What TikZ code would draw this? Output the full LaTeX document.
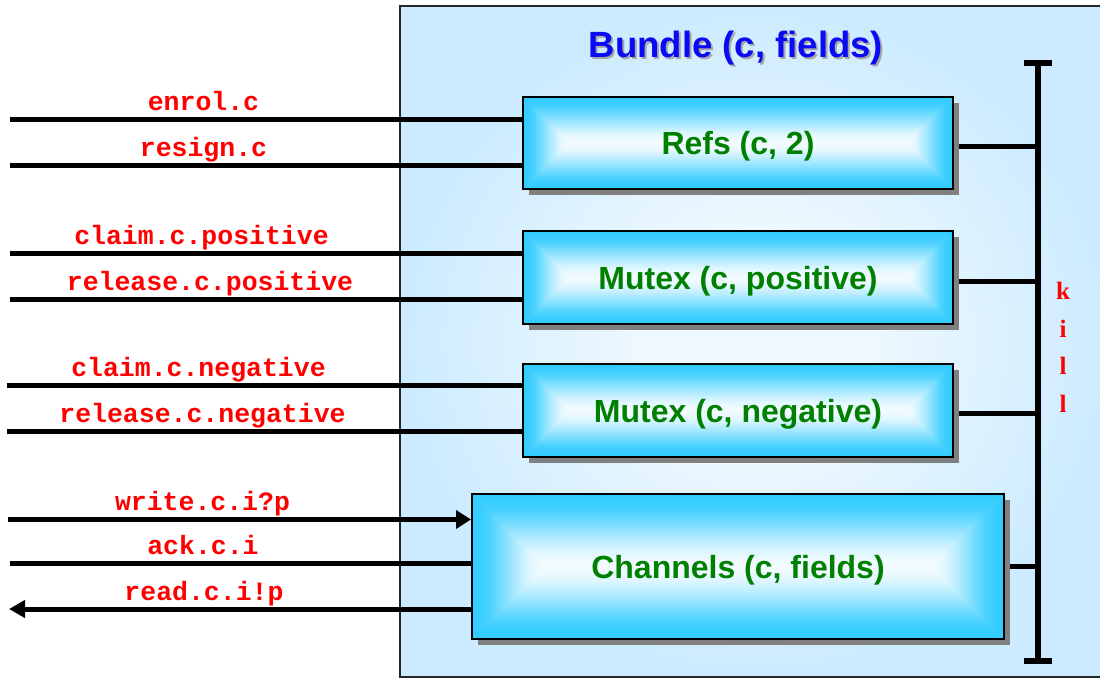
\documentclass[tikz,border=0pt]{standalone}
\usepackage{fontspec}
\setmainfont{Liberation Sans}
\newfontfamily\sansb{Liberation Sans}
\newfontfamily\monob{Liberation Mono}
\newfontfamily\serifb{Liberation Serif}
\usetikzlibrary{arrows.meta,shadows}
\definecolor{bgblue}{RGB}{204,235,255}
\definecolor{bglight}{RGB}{238,248,255}
\definecolor{boxcyan}{RGB}{51,204,255}
\definecolor{boxwhite}{RGB}{242,251,255}
\definecolor{lblred}{RGB}{255,0,0}
\definecolor{ttlblue}{RGB}{10,10,245}
\definecolor{boxgreen}{RGB}{0,128,0}
\definecolor{shadowgray}{RGB}{128,128,128}
\pgfdeclareradialshading{bundleshade}{\pgfpoint{0bp}{0bp}}{color(0bp)=(bglight); color(8bp)=(bglight); color(25bp)=(bgblue); color(50bp)=(bgblue)}
\pgfdeclarelayer{back}
\pgfsetlayers{back,main}
% rectangular "from centre" gradient inside a node
\newcommand\rectgrad{%
  \pgfpointanchor{path picture bounding box}{south west}\pgfgetlastxy\rgxa\rgya
  \pgfpointanchor{path picture bounding box}{north east}\pgfgetlastxy\rgxb\rgyb
  \pgfmathsetmacro\rghh{(\rgyb-\rgya)/2}%
  \foreach \rgi in {0,...,48}{%
    \pgfmathsetmacro\rgt{\rgi/48}%
    \pgfmathsetmacro\rgc{100*(1-(3*\rgt*\rgt-2*\rgt*\rgt*\rgt))}%
    \pgfmathsetmacro\rgd{\rgt*\rghh}%
    \pgfmathsetmacro\rgax{\rgxa+\rgd}%
    \pgfmathsetmacro\rgay{\rgya+\rgd}%
    \pgfmathsetmacro\rgbx{\rgxb-\rgd}%
    \pgfmathsetmacro\rgby{\rgyb-\rgd}%
    \fill[boxcyan!\rgc!boxwhite] (\rgax pt,\rgay pt) rectangle (\rgbx pt,\rgby pt);
  }%
}
\tikzset{
  bundlebox/.style={draw=black!85, line width=1.8pt, shading=bundleshade, rectangle, inner sep=0pt},
  procbox/.style={draw=black, line width=2pt, fill=boxcyan, rectangle, inner sep=0pt,
    path picture={\rectgrad},
    drop shadow={shadow xshift=6pt, shadow yshift=-6pt, fill=shadowgray, opacity=1},
    font=\sansb\bfseries\fontsize{32}{32}\selectfont, text=boxgreen, text height=24pt, text depth=0pt},
  chan/.style={line width=5pt, draw=black},
  lbl/.style={font=\monob\bfseries\fontsize{26.5}{26.5}\selectfont, text=lblred, anchor=base, inner sep=0pt},
  ttl/.style={font=\sansb\bfseries\fontsize{36.5}{36.5}\selectfont, anchor=base, inner sep=0pt},
  killbar/.style={line width=6pt, draw=black},
  killcap/.style={line width=6pt, draw=black},
  killtxt/.style={font=\serifb\bfseries\fontsize{25}{25}\selectfont, text=lblred, anchor=base, inner sep=0pt},
  intip/.style={-{Triangle[length=15pt,width=18pt]}},
  outtip/.style={-{Triangle[length=16pt,width=17pt]}}
}
\begin{document}
\begin{tikzpicture}[x=1pt,y=-1pt]
\useasboundingbox (0,0) rectangle (1100,679);
\clip (0,0) rectangle (1100,679);
\begin{pgfonlayer}{back}
\node[bundlebox, minimum width=712pt, minimum height=671pt] (bundle) at (756,341.5) {};
\end{pgfonlayer}
% title
\node[ttl, text=black!35] (ttlshadow) at (738,60) {Bundle (c, fields)};
\node[ttl, text=ttlblue] (title) at (736,58) {Bundle (c, fields)};
% process boxes
\node[procbox, minimum width=430pt, minimum height=92pt] (refs) at (738,143) {Refs (c, 2)};
\node[procbox, minimum width=430pt, minimum height=93pt] (mpos) at (738,277.5) {Mutex (c, positive)};
\node[procbox, minimum width=430pt, minimum height=93pt] (mneg) at (738,410.5) {Mutex (c, negative)};
\node[procbox, minimum width=532pt, minimum height=145pt] (chans) at (738,566.5) {Channels (c, fields)};
% kill bar
\coordinate (ktop) at (1038,63);
\coordinate (kbot) at (1038,661);
\draw[killbar] (ktop) -- (kbot);
\draw[killcap] ([xshift=-14pt]ktop) -- ([xshift=14pt]ktop);
\draw[killcap] ([xshift=-14pt]kbot) -- ([xshift=14pt]kbot);
\node[killtxt] (k1) at (1063,299) {k};
\node[killtxt] (k2) at (1063,337) {i};
\node[killtxt] (k3) at (1063,374) {l};
\node[killtxt] (k4) at (1063,412) {l};
% left end points
\coordinate (la) at (10,120);
\coordinate (lb) at (10,166);
\coordinate (lc) at (10,253);
\coordinate (ld) at (10,299);
\coordinate (le) at (7,385);
\coordinate (lf) at (7,431);
\coordinate (lg) at (8,519.5);
\coordinate (lh) at (10,563);
\coordinate (li) at (9,609);
\begin{pgfonlayer}{back}
\draw[chan] (la) -- (la -| refs.west);
\draw[chan] (lb) -- (lb -| refs.west);
\draw[chan] (lc) -- (lc -| mpos.west);
\draw[chan] (ld) -- (ld -| mpos.west);
\draw[chan] (le) -- (le -| mneg.west);
\draw[chan] (lf) -- (lf -| mneg.west);
\draw[chan, intip] (lg) -- (lg -| chans.west);
\draw[chan] (lh) -- (lh -| chans.west);
\draw[chan, outtip] (li -| chans.west) -- (li);
\draw[chan] ([yshift=-3.5pt]refs.east) -- ([yshift=-3.5pt]refs.east -| ktop);
\draw[chan] ([yshift=-3.5pt]mpos.east) -- ([yshift=-3.5pt]mpos.east -| ktop);
\draw[chan] ([yshift=-2.5pt]mneg.east) -- ([yshift=-2.5pt]mneg.east -| ktop);
\draw[chan] (chans.east) -- (chans.east -| ktop);
\end{pgfonlayer}
% labels
\node[lbl] (ta) at (203.5,111) {enrol.c};
\node[lbl] (tb) at (203.5,157) {resign.c};
\node[lbl] (tc) at (201.5,244) {claim.c.positive};
\node[lbl] (td) at (210,290) {release.c.positive};
\node[lbl] (te) at (198.5,376) {claim.c.negative};
\node[lbl] (tf) at (202.5,422) {release.c.negative};
\node[lbl] (tg) at (202.5,510) {write.c.i?p};
\node[lbl] (th) at (203,554) {ack.c.i};
\node[lbl] (ti) at (204,600) {read.c.i!p};
\end{tikzpicture}
\end{document}
